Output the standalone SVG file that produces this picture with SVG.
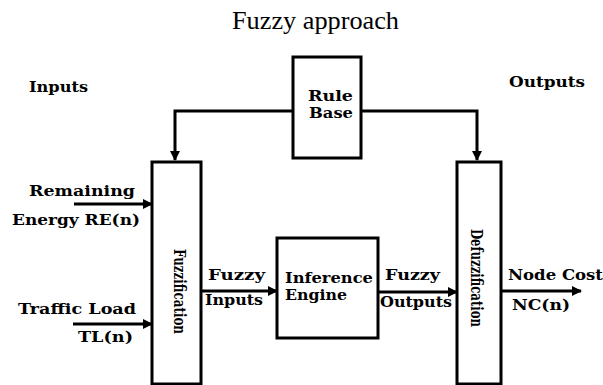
<svg xmlns="http://www.w3.org/2000/svg" width="603" height="385" viewBox="0 0 603 385">
<style>
.box{fill:#fff;stroke:#000;stroke-width:3}
.ln{fill:none;stroke:#000;stroke-width:3}
.lb{font-family:"DejaVu Serif","Liberation Serif",serif;font-weight:bold;font-size:14px;fill:#000}
.vt{font-size:17px}
.title{font-family:"Liberation Serif","Times New Roman",serif;font-size:25px;fill:#000}
</style>
<defs>
<marker id="ah" markerWidth="10" markerHeight="10" refX="9" refY="5" orient="auto" markerUnits="userSpaceOnUse">
<path d="M0,0 L10,5 L0,10 Z" fill="#000"/>
</marker>
</defs>
<rect width="603" height="385" fill="#fff"/>
<text class="title" x="232" y="29" textLength="167" lengthAdjust="spacingAndGlyphs">Fuzzy approach</text>
<text class="lb" x="29" y="92" textLength="59" lengthAdjust="spacingAndGlyphs">Inputs</text>
<text class="lb" x="509" y="87" textLength="76" lengthAdjust="spacingAndGlyphs">Outputs</text>
<g id="connectors">
<path class="ln" d="M293,111 H175 V160" marker-end="url(#ah)"/>
<path class="ln" d="M361,111 H477 V160" marker-end="url(#ah)"/>
<path class="ln" d="M74,204 H152" marker-end="url(#ah)"/>
<path class="ln" d="M73,324 H152" marker-end="url(#ah)"/>
<path class="ln" d="M201,291 H277" marker-end="url(#ah)"/>
<path class="ln" d="M378,292 H457" marker-end="url(#ah)"/>
<path class="ln" d="M501,291 H581" marker-end="url(#ah)"/>
<text class="lb" x="29" y="196" textLength="106" lengthAdjust="spacingAndGlyphs">Remaining</text>
<text class="lb" x="12" y="225" textLength="128" lengthAdjust="spacingAndGlyphs">Energy RE(n)</text>
<text class="lb" x="18" y="314" textLength="118" lengthAdjust="spacingAndGlyphs">Traffic Load</text>
<text class="lb" x="78" y="342" textLength="55" lengthAdjust="spacingAndGlyphs">TL(n)</text>
<text class="lb" x="208" y="280" textLength="57" lengthAdjust="spacingAndGlyphs">Fuzzy</text>
<text class="lb" x="205" y="305" textLength="58" lengthAdjust="spacingAndGlyphs">Inputs</text>
<text class="lb" x="385" y="280" textLength="55" lengthAdjust="spacingAndGlyphs">Fuzzy</text>
<text class="lb" x="380" y="307" textLength="72" lengthAdjust="spacingAndGlyphs">Outputs</text>
<text class="lb" x="508" y="280" textLength="95" lengthAdjust="spacingAndGlyphs">Node Cost</text>
<text class="lb" x="512" y="310" textLength="58" lengthAdjust="spacingAndGlyphs">NC(n)</text>
</g>
<g id="rule-base">
<rect class="box" x="293" y="57" width="68" height="101"/>
<text class="lb" x="308" y="101" textLength="45" lengthAdjust="spacingAndGlyphs">Rule</text>
<text class="lb" x="309" y="118" textLength="44" lengthAdjust="spacingAndGlyphs">Base</text>
</g>
<g id="fuzzification">
<rect class="box" x="152" y="162" width="49" height="222"/>
<text class="lb vt" transform="translate(174,249) rotate(90)" x="0" y="0" textLength="85" lengthAdjust="spacingAndGlyphs">Fuzzification</text>
</g>
<g id="inference-engine">
<rect class="box" x="277" y="238" width="101" height="100"/>
<text class="lb" x="285" y="283" textLength="88" lengthAdjust="spacingAndGlyphs">Inference</text>
<text class="lb" x="285" y="300" textLength="62" lengthAdjust="spacingAndGlyphs">Engine</text>
</g>
<g id="defuzzification">
<rect class="box" x="457" y="162" width="44" height="222"/>
<text class="lb vt" transform="translate(471,229) rotate(90)" x="0" y="0" textLength="98" lengthAdjust="spacingAndGlyphs">Defuzzification</text>
</g>
</svg>
